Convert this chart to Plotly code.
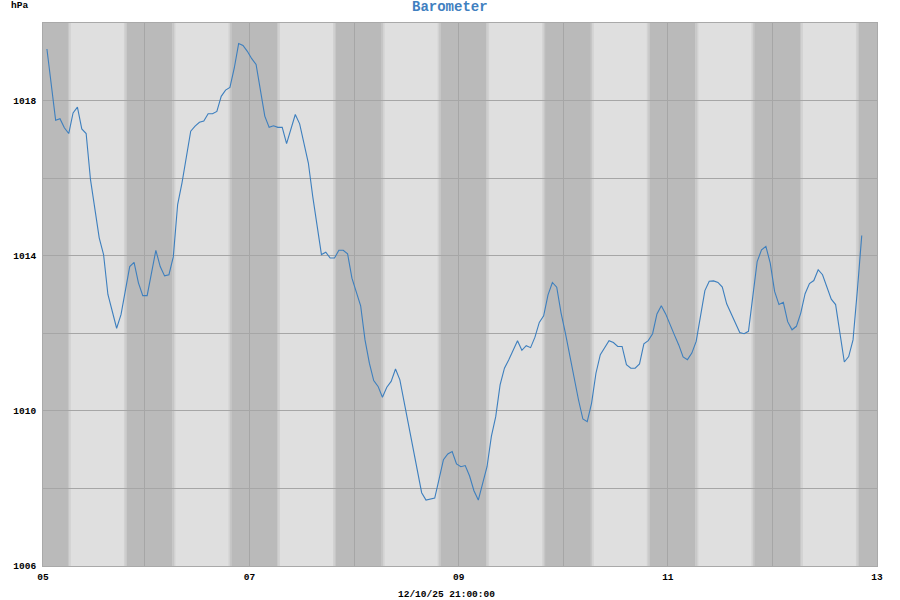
import pandas as pd
import plotly.graph_objects as go

# ---- data ----
BASE = "2025-10-05 00:00"
# hour offsets (from BASE) of the hourly readings, each stamped at hh:30
HOURS = [1, 3, 4, 5, 6, 7, 8, 9, 10, 11, 13, 14, 15, 17, 18, 20, 21, 22, 23, 24,
         26, 27, 28, 29, 30, 31, 32, 34, 35, 36, 37, 38, 39, 40, 41, 42, 43, 44, 45, 46,
         47, 48, 49, 50, 51, 52, 53, 54, 55, 56, 58, 59, 60, 61, 62, 64, 65, 66, 67, 68,
         69, 70, 71, 73, 74, 75, 76, 77, 78, 79, 80, 81, 82, 83, 84, 85, 86, 87, 88, 89,
         90, 91, 92, 93, 94, 95, 96, 97, 98, 99, 100, 101, 102, 103, 104, 105, 106, 107, 108, 109,
         110, 111, 112, 113, 114, 115, 116, 117, 118, 119, 120, 121, 122, 123, 124, 125, 126, 127, 128, 129,
         130, 131, 132, 133, 134, 135, 136, 137, 138, 139, 140, 141, 142, 143, 144, 145, 146, 147, 148, 149,
         150, 151, 152, 153, 154, 155, 156, 157, 158, 159, 160, 161, 162, 163, 164, 165, 166, 167, 168, 169,
         170, 171, 172, 173, 174, 175, 176, 177, 178, 179, 180, 181, 182, 183, 184, 185, 186, 187, 188]
PRESSURE = [1019.33, 1017.49, 1017.53, 1017.30, 1017.15, 1017.68, 1017.83, 1017.27, 1017.15, 1015.96,
            1014.46, 1014.03, 1013.00, 1012.13, 1012.48, 1013.72, 1013.83, 1013.30, 1012.97, 1012.97,
            1014.14, 1013.72, 1013.48, 1013.51, 1013.97, 1015.32, 1015.88, 1017.21, 1017.34, 1017.44,
            1017.47, 1017.66, 1017.66, 1017.72, 1018.11, 1018.27, 1018.34, 1018.84, 1019.47, 1019.42,
            1019.27, 1019.08, 1018.93, 1018.28, 1017.60, 1017.31, 1017.35, 1017.31, 1017.31, 1016.89,
            1017.64, 1017.40, 1016.91, 1016.39, 1015.53, 1014.03, 1014.09, 1013.94, 1013.94, 1014.14,
            1014.14, 1014.05, 1013.42, 1012.71, 1011.83, 1011.23, 1010.78, 1010.63, 1010.35, 1010.61,
            1010.76, 1011.08, 1010.80, 1010.20, 1009.59, 1008.99, 1008.48, 1007.89, 1007.70, 1007.72,
            1007.75, 1008.24, 1008.74, 1008.89, 1008.95, 1008.63, 1008.56, 1008.59, 1008.32, 1007.94,
            1007.70, 1008.13, 1008.56, 1009.34, 1009.85, 1010.67, 1011.10, 1011.32, 1011.56, 1011.81,
            1011.56, 1011.68, 1011.63, 1011.90, 1012.28, 1012.45, 1012.99, 1013.31, 1013.19, 1012.52,
            1012.00, 1011.40, 1010.84, 1010.28, 1009.79, 1009.72, 1010.20, 1010.97, 1011.45, 1011.64,
            1011.81, 1011.76, 1011.66, 1011.66, 1011.19, 1011.10, 1011.10, 1011.21, 1011.73, 1011.81,
            1011.99, 1012.50, 1012.71, 1012.50, 1012.25, 1011.96, 1011.70, 1011.39, 1011.32, 1011.49,
            1011.79, 1012.43, 1013.10, 1013.34, 1013.35, 1013.31, 1013.19, 1012.76, 1012.52, 1012.26,
            1012.02, 1011.99, 1012.05, 1012.95, 1013.85, 1014.15, 1014.24, 1013.81, 1013.08, 1012.74,
            1012.80, 1012.30, 1012.09, 1012.18, 1012.52, 1013.02, 1013.28, 1013.36, 1013.64, 1013.51,
            1013.19, 1012.88, 1012.74, 1012.00, 1011.26, 1011.40, 1011.83, 1013.12, 1014.52]
DAY_LABELS = ["05", "", "07", "", "09", "", "11", "", "13"]
Y_TICKS = [1006, 1008, 1010, 1012, 1014, 1016, 1018, 1020]
Y_LABELS = ["1006", "", "1010", "", "1014", "", "1018", ""]
TITLE = "Barometer"
UNIT = "hPa"
STAMP = "12/10/25 21:00:00"

# ---- style ----
FONT = "Liberation Mono, Courier New, monospace"
LIGHT = "#dfdfdf"
DARK = "#bababa"
FADE1 = "#d2d2d2"
FADE2 = "#c6c6c6"
GRID = "#a6a6a6"
LINE = "#3d7fbe"

base = pd.Timestamp(BASE)
times = [base + pd.Timedelta(hours=h, minutes=30) for h in HOURS]
x_start = base + pd.Timedelta(minutes=36)
x_end = base + pd.Timedelta(days=8)
day_ticks = [x_start] + [base + pd.Timedelta(days=d) for d in range(1, 9)]

fig = go.Figure()
fig.add_trace(go.Scatter(x=times, y=PRESSURE, mode="lines",
                         line=dict(color=LINE, width=1.1), hoverinfo="skip"))

# day / night shading with soft edges: (start hh:mm, end hh:mm, colour, start day offset, end day offset)
segments = [("19:10", "19:30", FADE1, 0, 0), ("19:30", "19:50", FADE2, 0, 0),
            ("19:50", "06:20", DARK, 0, 1), ("06:20", "06:40", FADE2, 1, 1),
            ("06:40", "07:00", FADE1, 1, 1)]


def at(day, hhmm, off):
    return day + pd.Timedelta(days=off, hours=int(hhmm[:2]), minutes=int(hhmm[3:]))


for d in range(-1, 8):
    day = base + pd.Timedelta(days=d)
    for t0, t1, col, o0, o1 in segments:
        a = max(at(day, t0, o0), x_start)
        b = min(at(day, t1, o1), x_end)
        if b <= a:
            continue
        fig.add_shape(type="rect", xref="x", yref="paper", x0=a, x1=b, y0=0, y1=1,
                      fillcolor=col, line=dict(width=0), layer="below")

fig.update_layout(
    width=900, height=600,
    margin=dict(l=43, r=23, t=23, b=34),
    paper_bgcolor="white", plot_bgcolor=LIGHT,
    showlegend=False,
    font=dict(family=FONT, size=9, color="black", weight="bold"),
)
fig.update_xaxes(range=[x_start, x_end], tickvals=day_ticks, ticktext=DAY_LABELS,
                 showgrid=True, gridcolor=GRID, gridwidth=1, zeroline=False,
                 showline=True, mirror=True, linecolor="#a9a9a9", linewidth=1,
                 ticks="", ticklabelstandoff=2,
                 tickfont=dict(family=FONT, size=9.5, color="black", weight="bold"))
fig.update_yaxes(range=[1006, 1020], tickvals=Y_TICKS, ticktext=Y_LABELS,
                 showgrid=True, gridcolor=GRID, gridwidth=1, zeroline=False,
                 showline=True, mirror=True, linecolor="#a9a9a9", linewidth=1,
                 ticks="", ticklabelstandoff=4,
                 tickfont=dict(family=FONT, size=9.5, color="black", weight="bold"))

fig.add_annotation(text=TITLE, xref="paper", yref="paper",
                   x=(450 - 43) / 834, xanchor="center", y=1 + (23 - 7.5) / 543, yanchor="middle",
                   showarrow=False, font=dict(family=FONT, size=14, color="#3f80c0", weight="bold"))
fig.add_annotation(text=UNIT, xref="paper", yref="paper",
                   x=(9 - 43) / 834, xanchor="left", y=1 + (23 - 5.5) / 543, yanchor="middle",
                   showarrow=False, font=dict(family=FONT, size=9.5, color="black", weight="bold"))
fig.add_annotation(text=STAMP, xref="paper", yref="paper",
                   x=(446 - 43) / 834, xanchor="center", y=-(594 - 566) / 543, yanchor="middle",
                   showarrow=False, font=dict(family=FONT, size=9.5, color="black", weight="bold"))

fig.write_html("out.html", config={"displayModeBar": False},
               post_script="document.body.style.margin='0';")
